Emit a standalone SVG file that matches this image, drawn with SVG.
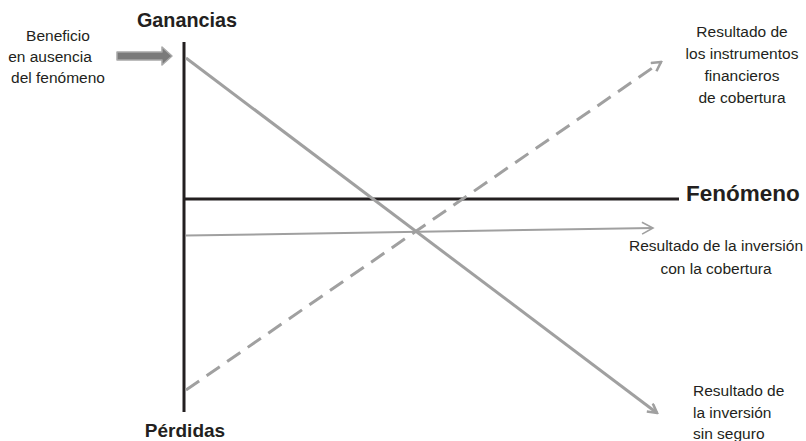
<svg xmlns="http://www.w3.org/2000/svg" width="806" height="441" viewBox="0 0 806 441">
<style>
text{font-family:"Liberation Sans",Arial,sans-serif;fill:#231f20}
.lbl{font-size:15.5px}
.ttl{font-weight:bold}
.g{stroke:#a0a0a0;fill:none;stroke-width:3}
.thin{stroke:#a0a0a0;fill:none;stroke-width:2}
.axis{stroke:#231f20;stroke-width:3;fill:none}
</style>
<defs>
<marker id="ah" viewBox="0 0 12 12" refX="10" refY="6" markerWidth="12" markerHeight="12" markerUnits="userSpaceOnUse" orient="auto">
<polyline points="1,1 10,6 1,11" fill="none" stroke="#a0a0a0" stroke-width="2.6"/>
</marker>
<marker id="ahs" viewBox="0 0 14 14" refX="12" refY="7" markerWidth="14" markerHeight="14" markerUnits="userSpaceOnUse" orient="auto">
<polyline points="1,1 12,7 1,13" fill="none" stroke="#a0a0a0" stroke-width="1.6"/>
</marker>
</defs>
<g id="axes">
<line class="axis" x1="184" y1="42" x2="184" y2="412"/>
<line class="axis" x1="184" y1="199" x2="679" y2="199"/>
</g>
<g id="connectors">
<line class="g" x1="186" y1="58" x2="657" y2="413" marker-end="url(#ah)"/>
<line class="g" x1="186" y1="390" x2="661" y2="62" stroke-dasharray="16 9" marker-end="url(#ah)"/>
<line class="thin" x1="186" y1="235.5" x2="653" y2="228" marker-end="url(#ahs)"/>
<polygon points="117,52 162,52 162,47 172,56 162,65 162,60 117,60" fill="#7a7a7a" stroke="#a8a8a8" stroke-width="1.5" stroke-linejoin="round"/>
</g>
<g id="ganancias"><text class="ttl" x="187" y="27" font-size="19.8" text-anchor="middle">Ganancias</text></g>
<g id="perdidas"><text class="ttl" x="185" y="437" font-size="19" text-anchor="middle">Pérdidas</text></g>
<g id="fenomeno"><text class="ttl" x="686" y="201" font-size="22.5">Fenómeno</text></g>
<g id="beneficio">
<text class="lbl" x="58" y="41" text-anchor="middle">Beneficio</text>
<text class="lbl" x="50" y="62" text-anchor="middle">en ausencia</text>
<text class="lbl" x="58" y="83" text-anchor="middle">del fenómeno</text>
</g>
<g id="instrumentos">
<text class="lbl" x="742" y="37" text-anchor="middle">Resultado de</text>
<text class="lbl" x="742" y="59" text-anchor="middle">los instrumentos</text>
<text class="lbl" x="742" y="81" text-anchor="middle">financieros</text>
<text class="lbl" x="742" y="103" text-anchor="middle">de cobertura</text>
</g>
<g id="con-cobertura">
<text class="lbl" x="716" y="251" text-anchor="middle">Resultado de la inversión</text>
<text class="lbl" x="716" y="274" text-anchor="middle">con la cobertura</text>
</g>
<g id="sin-seguro">
<text class="lbl" x="693" y="396">Resultado de</text>
<text class="lbl" x="693" y="418">la inversión</text>
<text class="lbl" x="693" y="439">sin seguro</text>
</g>
</svg>
